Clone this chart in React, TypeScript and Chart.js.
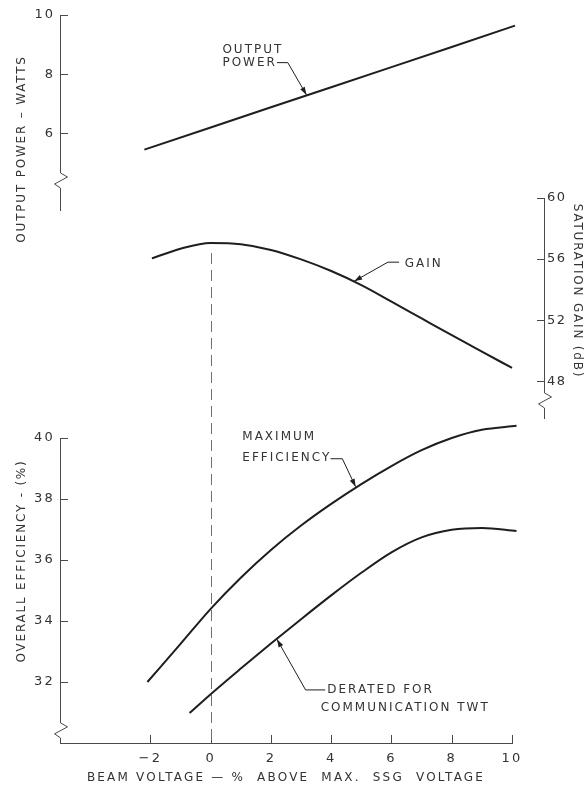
import React, { useEffect, useRef } from 'react';
import { Chart, registerables } from 'chart.js';

Chart.register(...registerables);

const W = 587;
const H = 791;
const FONT = "'DejaVu Sans', sans-serif";
const INK = '#1e1e1e';
const AXIS = '#4a4a4a';
const TXT = '#333333';
const DASH = '#707070';

// ---- tick labels ----
const beamTicks = [-2, 0, 2, 4, 6, 8, 10];
const powerTicks = [6, 8, 10];
const gainTicks = [48, 52, 56, 60];
const effTicks = [32, 34, 36, 38, 40];

// ---- series (beam voltage % above max SSG voltage) ----
const powerBeam = [-2.2, 0, 2, 4, 6, 8, 10.1];
const powerWatts = [5.45, 6.2, 6.88, 7.56, 8.24, 8.92, 9.64];

const gainBeam = [-1.95, -1, 0, 1, 2, 3, 4, 5, 6, 7, 8, 9, 10];
const gainDb = [56.05, 56.68, 57.05, 56.97, 56.6, 55.98, 55.22, 54.3, 53.22, 52.12, 51.02, 49.94, 48.88];

const maxEffBeam = [-2.1, -1, 0, 1, 2, 3, 4, 5, 6, 7, 8, 9, 10.15];
const maxEffPct = [32.0, 33.25, 34.4, 35.42, 36.33, 37.13, 37.84, 38.49, 39.08, 39.6, 40.0, 40.27, 40.4];

const deratedBeam = [-0.7, 0, 1, 2, 3, 4, 5, 6, 7, 8, 9, 10.15];
const deratedPct = [30.98, 31.6, 32.44, 33.26, 34.06, 34.84, 35.58, 36.25, 36.74, 36.99, 37.05, 36.95];

const pts = (xs: number[], ys: number[]) => xs.map((x, i) => ({ x, y: ys[i] }));

type Ann = { lines: { text: string; x: number; y: number }[]; leader: [number, number][] };

const powerAnn: Ann[] = [
  { lines: [{ text: 'OUTPUT', x: 0.39, y: 8.82 }, { text: 'POWER', x: 0.39, y: 8.37 }], leader: [[2.2, 8.39], [2.56, 8.39], [3.18, 7.3]] },
];
const gainAnn: Ann[] = [
  { lines: [{ text: 'GAIN', x: 6.44, y: 55.7 }], leader: [[6.25, 55.8], [5.88, 55.8], [4.76, 54.55]] },
];
const effAnn: Ann[] = [
  { lines: [{ text: 'MAXIMUM', x: 1.05, y: 40.05 }, { text: 'EFFICIENCY', x: 1.05, y: 39.35 }], leader: [[3.98, 39.32], [4.37, 39.32], [4.81, 38.4]] },
  { lines: [{ text: 'DERATED FOR', x: 3.87, y: 31.74 }, { text: 'COMMUNICATION TWT', x: 3.65, y: 31.14 }], leader: [[3.8, 31.74], [3.15, 31.74], [2.2, 33.4]] },
];

function annotationPlugin(id: string, anns: Ann[]) {
  return {
    id,
    afterDatasetsDraw(chart: any) {
      const { ctx } = chart;
      const xs = chart.scales.x;
      const ys = chart.scales.y;
      ctx.save();
      ctx.font = `12px ${FONT}`;
      ctx.textBaseline = 'middle';
      ctx.textAlign = 'left';
      (ctx as any).letterSpacing = '2px';
      anns.forEach((a) => {
        ctx.fillStyle = TXT;
        a.lines.forEach((l) => ctx.fillText(l.text, xs.getPixelForValue(l.x), ys.getPixelForValue(l.y)));
        const p = a.leader.map(([x, y]) => [xs.getPixelForValue(x), ys.getPixelForValue(y)]);
        ctx.strokeStyle = INK;
        ctx.lineWidth = 1;
        ctx.beginPath();
        p.forEach(([px, py], i) => (i ? ctx.lineTo(px, py) : ctx.moveTo(px, py)));
        ctx.stroke();
        const [tx, ty] = p[p.length - 1];
        const [sx, sy] = p[p.length - 2];
        const ang = Math.atan2(ty - sy, tx - sx);
        const L = 8, Wd = 2.6;
        ctx.beginPath();
        ctx.moveTo(tx, ty);
        ctx.lineTo(tx - L * Math.cos(ang) + Wd * Math.sin(ang), ty - L * Math.sin(ang) - Wd * Math.cos(ang));
        ctx.lineTo(tx - L * Math.cos(ang) - Wd * Math.sin(ang), ty - L * Math.sin(ang) + Wd * Math.cos(ang));
        ctx.closePath();
        ctx.fillStyle = INK;
        ctx.fill();
      });
      ctx.restore();
    },
  };
}

function titlePlugin(id: string, items: { text: string; x: number; y: number; rot: number }[]) {
  return {
    id,
    afterDraw(chart: any) {
      const { ctx } = chart;
      items.forEach((t) => {
        ctx.save();
        ctx.translate(t.x, t.y);
        ctx.rotate(t.rot);
        ctx.font = `12px ${FONT}`;
        (ctx as any).letterSpacing = '1.8px';
        ctx.fillStyle = TXT;
        ctx.textAlign = 'center';
        ctx.textBaseline = 'middle';
        ctx.fillText(t.text, 0, 0);
        ctx.restore();
      });
    },
  };
}

// inward tick marks drawn from each visible scale's own ticks
const inTicksPlugin = {
  id: 'inTicks',
  afterDraw(chart: any) {
    const { ctx } = chart;
    ctx.save();
    ctx.strokeStyle = AXIS;
    ctx.lineWidth = 1;
    Object.values(chart.scales).forEach((s: any) => {
      if (s.options.display === false) return;
      s.ticks.forEach((t: any) => {
        const p = Math.round(s.getPixelForValue(t.value)) + 0.5;
        ctx.beginPath();
        if (s.isHorizontal()) {
          ctx.moveTo(p, s.top);
          ctx.lineTo(p, s.top - 8);
        } else if (s.position === 'left') {
          ctx.moveTo(s.right, p);
          ctx.lineTo(s.right + 8, p);
        } else {
          ctx.moveTo(s.left, p);
          ctx.lineTo(s.left - 7, p);
        }
        ctx.stroke();
      });
    });
    ctx.restore();
  },
};

function breakPlugin(id: string, value: number) {
  return {
    id,
    afterDraw(chart: any) {
      const { ctx } = chart;
      const s = chart.scales.y;
      const ax = Math.round(s.position === 'left' ? s.right : s.left) + 0.5;
      const y0 = s.getPixelForValue(value);
      ctx.save();
      ctx.clearRect(ax - 3, y0, 6, 15);
      ctx.strokeStyle = AXIS;
      ctx.lineWidth = 1;
      ctx.beginPath();
      ctx.moveTo(ax, y0);
      ctx.lineTo(ax + 7, y0 + 4);
      ctx.lineTo(ax - 6, y0 + 11);
      ctx.lineTo(ax, y0 + 15);
      ctx.stroke();
      ctx.restore();
    },
  };
}

const spacingPlugin = (sp: string) => ({
  id: 'spacing',
  beforeDraw(chart: any) {
    (chart.ctx as any).letterSpacing = sp;
  },
});

function yAxis(pos: string, min: number, max: number, ticks: number[], width: number, pad: number) {
  return {
    type: 'linear',
    position: pos,
    min,
    max,
    afterBuildTicks: (s: any) => {
      s.ticks = ticks.map((v) => ({ value: v }));
    },
    afterFit: (s: any) => {
      s.width = width;
    },
    grid: { drawOnChartArea: false, drawTicks: false, color: AXIS, lineWidth: 1 },
    border: { display: true, color: AXIS, width: 1 },
    ticks: { padding: pad, color: TXT, font: { family: FONT, size: 13 } },
  };
}

const lineDs = (data: any[], smooth: boolean) => ({
  data,
  borderColor: INK,
  borderWidth: 2,
  pointRadius: 0,
  fill: false,
  clip: false,
  tension: smooth ? 0.4 : 0,
  cubicInterpolationMode: smooth ? 'monotone' : 'default',
});

const common = {
  responsive: false,
  animation: false,
  devicePixelRatio: 1,
  plugins: { legend: { display: false }, tooltip: { enabled: false } },
  events: [],
};

export default function App() {
  const topRef = useRef<HTMLCanvasElement>(null);
  const midRef = useRef<HTMLCanvasElement>(null);
  const botRef = useRef<HTMLCanvasElement>(null);

  useEffect(() => {
    const bottom = new Chart(botRef.current as HTMLCanvasElement, {
      type: 'line',
      data: { datasets: [lineDs(pts(maxEffBeam, maxEffPct), true), lineDs(pts(deratedBeam, deratedPct), true)] as any },
      options: {
        ...common,
        layout: { padding: { left: 10, top: 438, right: 75, bottom: 0 } },
        scales: {
          x: {
            type: 'linear',
            position: 'bottom',
            min: -5,
            max: 10,
            afterBuildTicks: (s: any) => {
              s.ticks = beamTicks.map((v) => ({ value: v }));
            },
            afterFit: (s: any) => {
              s.height = 48;
            },
            grid: { drawOnChartArea: false, drawTicks: false, color: AXIS, lineWidth: 1 },
            border: { display: true, color: AXIS, width: 1 },
            ticks: {
              autoSkip: false,
              maxRotation: 0,
              padding: 8,
              color: TXT,
              font: { family: FONT, size: 13 },
              callback: (v: any) => (v < 0 ? '\u2212' + Math.abs(v) : String(v)),
            },
            title: {
              display: true,
              text: 'BEAM VOLTAGE \u2014 %  ABOVE  MAX.  SSG  VOLTAGE',
              color: TXT,
              font: { family: FONT, size: 12 },
              padding: { top: 0, bottom: 6 },
            },
          },
          y: yAxis('left', 30, 40, effTicks, 50, 5),
        },
      } as any,
      plugins: [
        spacingPlugin('2.2px'),
        inTicksPlugin,
        annotationPlugin('effAnn', effAnn),
        breakPlugin('effBreak', 30.66),
        titlePlugin('effTitle', [{ text: 'OVERALL EFFICIENCY - (%)', x: 22, y: 561, rot: -Math.PI / 2 }]),
      ] as any,
    });

    const dashPlugin = {
      id: 'dash',
      afterDatasetsDraw(chart: any) {
        const { ctx } = chart;
        const x = Math.round(chart.scales.x.getPixelForValue(0)) + 0.5;
        const y0 = chart.scales.y.getPixelForValue(56.4);
        const y1 = bottom.chartArea.bottom;
        ctx.save();
        ctx.strokeStyle = DASH;
        ctx.lineWidth = 1;
        ctx.setLineDash([11, 6]);
        ctx.beginPath();
        ctx.moveTo(x, y0);
        ctx.lineTo(x, y1);
        ctx.stroke();
        ctx.restore();
      },
    };

    const middle = new Chart(midRef.current as HTMLCanvasElement, {
      type: 'line',
      data: { datasets: [lineDs(pts(gainBeam, gainDb), true)] as any },
      options: {
        ...common,
        layout: { padding: { left: 60, top: 198, right: 0, bottom: H - 418 } },
        scales: {
          x: { type: 'linear', min: -5, max: 11.06, display: false },
          y: yAxis('right', 45.6, 60, gainTicks, 43, 3),
        },
      } as any,
      plugins: [
        spacingPlugin('1.5px'),
        inTicksPlugin,
        dashPlugin,
        annotationPlugin('gainAnn', gainAnn),
        breakPlugin('gainBreak', 47.24),
        titlePlugin('gainTitle', [{ text: 'SATURATION GAIN (dB)', x: 577, y: 291, rot: Math.PI / 2 }]),
      ] as any,
    });

    const top = new Chart(topRef.current as HTMLCanvasElement, {
      type: 'line',
      data: { datasets: [lineDs(pts(powerBeam, powerWatts), false)] as any },
      options: {
        ...common,
        layout: { padding: { left: 10, top: 15, right: 75, bottom: H - 210 } },
        scales: {
          x: { type: 'linear', min: -5, max: 10, display: false },
          y: yAxis('left', 3.41, 10, powerTicks, 50, 5),
        },
      } as any,
      plugins: [
        spacingPlugin('2px'),
        inTicksPlugin,
        annotationPlugin('powerAnn', powerAnn),
        breakPlugin('powerBreak', 4.66),
        titlePlugin('powerTitle', [{ text: 'OUTPUT POWER \u2013 WATTS', x: 22, y: 149, rot: -Math.PI / 2 }]),
      ] as any,
    });

    return () => {
      top.destroy();
      middle.destroy();
      bottom.destroy();
    };
  }, []);

  const cs: React.CSSProperties = { position: 'absolute', left: 0, top: 0 };
  return (
    <div style={{ position: 'absolute', left: 0, top: 0, width: W, height: H, background: '#ffffff', overflow: 'hidden' }}>
      <canvas ref={botRef} width={W} height={H} style={cs} />
      <canvas ref={midRef} width={W} height={H} style={cs} />
      <canvas ref={topRef} width={W} height={H} style={cs} />
    </div>
  );
}
